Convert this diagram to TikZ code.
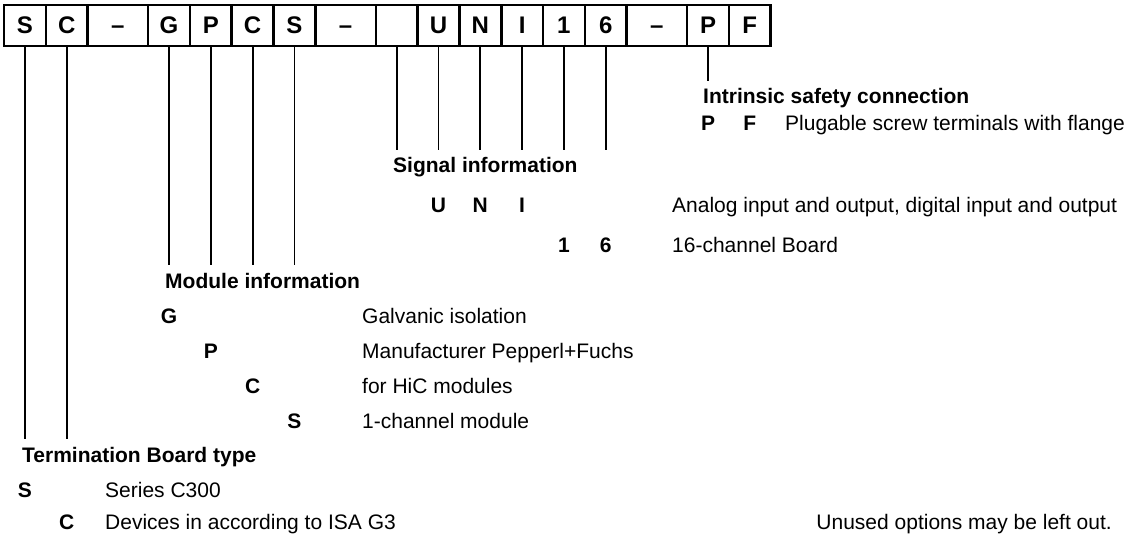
\documentclass[tikz,border=0pt]{standalone}
\usepackage{fontspec}
\setmainfont{Liberation Sans}
\usetikzlibrary{positioning}

\begin{document}
\begin{tikzpicture}[x=1pt, y=-1pt, node distance = 0pt, cell/.style ={draw, line width=2.6pt, minimum width=41.8pt, minimum height=41pt, inner sep=0pt, outer sep=0pt, text height=17pt, text depth=0pt, font=\fontsize{24}{24}\selectfont\bfseries}, wide/.style={cell, minimum width=60.5pt}, lead/.style={line width=1.8pt}, head/.style={anchor=base west, inner xsep=0pt, inner ysep=8pt, font=\fontsize{21}{24}\selectfont\bfseries}, code/.style={anchor=base, inner sep=0pt, font=\fontsize{21}{24}\selectfont\bfseries}, desc/.style={anchor=base west, inner sep=0pt, font=\fontsize{21}{24}\selectfont}]
	\useasboundingbox (0,0) rectangle (1131,537);
	% type code boxes
	\node[cell, anchor=west] (bS) at (4,25.5) {S};
	\node[cell] (bC) [right = of bS] {C};
	\node[wide] (bd1) [right = of bC] {\textendash};
	\node[cell] (bG) [right = of bd1] {G};
	\node[cell] (bP) [right = of bG] {P};
	\node[cell] (bC2) [right = of bP] {C};
	\node[cell] (bS2) [right = of bC2] {S};
	\node[wide] (bd2) [right = of bS2] {\textendash};
	\node[cell] (bE) [right = of bd2] {};
	\node[cell] (bU) [right = of bE] {U};
	\node[cell] (bN) [right = of bU] {N};
	\node[cell] (bI) [right = of bN] {I};
	\node[cell] (b1) [right = of bI] {1};
	\node[cell] (b6) [right = of b1] {6};
	\node[wide] (bd3) [right = of b6] {\textendash};
	\node[cell] (bP2) [right = of bd3] {P};
	\node[cell] (bF) [right = of bP2] {F};
	% headings
	\node[head] (isc) at (703,104) {Intrinsic safety connection};
	\node[head] (sig) at (393,173) {Signal information};
	\node[head] (mod) at (165,288) {Module information};
	\node[head] (tbt) at (22,462) {Termination Board type};
	% code letters and descriptions
	\node[code] (cP2) at (bP2 |- 0,131) {P};
	\node[code] (cF) at (bF |- 0,131) {F};
	\node[desc] (dPF) at (785,131) {Plugable screw terminals with flange};
	\node[code] (cU) at (bU |- 0,213) {U};
	\node[code] (cN) at (bN |- 0,213) {N};
	\node[code] (cI) at (bI |- 0,213) {I};
	\node[desc] (dUNI) at (672,213) {Analog input and output, digital input and output};
	\node[code] (c1) at (b1 |- 0,252) {1};
	\node[code] (c6) at (b6 |- 0,252) {6};
	\node[desc] (d16) at (672,252) {16-channel Board};
	\node[code] (cG) at (bG |- 0,323) {G};
	\node[desc] (dG) at (362,323) {Galvanic isolation};
	\node[code] (cP) at (bP |- 0,358) {P};
	\node[desc] (dP) at (362,358) {Manufacturer Pepperl+Fuchs};
	\node[code] (cC2) at (bC2 |- 0,393) {C};
	\node[desc] (dC2) at (362,393) {for HiC modules};
	\node[code] (cS2) at (bS2 |- 0,428) {S};
	\node[desc] (dS2) at (362,428) {1-channel module};
	\node[code] (cS) at (bS |- 0,497) {S};
	\node[desc] (dS) at (105,497) {Series C300};
	\node[code] (cC) at (bC |- 0,529) {C};
	\node[desc] (dC) at (105,529) {Devices in according to ISA G3};
	\node[desc, anchor=base east] (note) at (1112,529) {Unused options may be left out.};
	% leads
	\draw[lead] (bP2.south) -- (bP2 |- isc.north);
	\draw[lead] (bE.south) -- (bE |- sig.north);
	\draw[lead] (bU.south) -- (bU |- sig.north);
	\draw[lead] (bN.south) -- (bN |- sig.north);
	\draw[lead] (bI.south) -- (bI |- sig.north);
	\draw[lead] (b1.south) -- (b1 |- sig.north);
	\draw[lead] (b6.south) -- (b6 |- sig.north);
	\draw[lead] (bG.south) -- (bG |- mod.north);
	\draw[lead] (bP.south) -- (bP |- mod.north);
	\draw[lead] (bC2.south) -- (bC2 |- mod.north);
	\draw[lead] (bS2.south) -- (bS2 |- mod.north);
	\draw[lead] (bS.south) -- (bS |- tbt.north);
	\draw[lead] (bC.south) -- (bC |- tbt.north);
\end{tikzpicture}
\end{document}
